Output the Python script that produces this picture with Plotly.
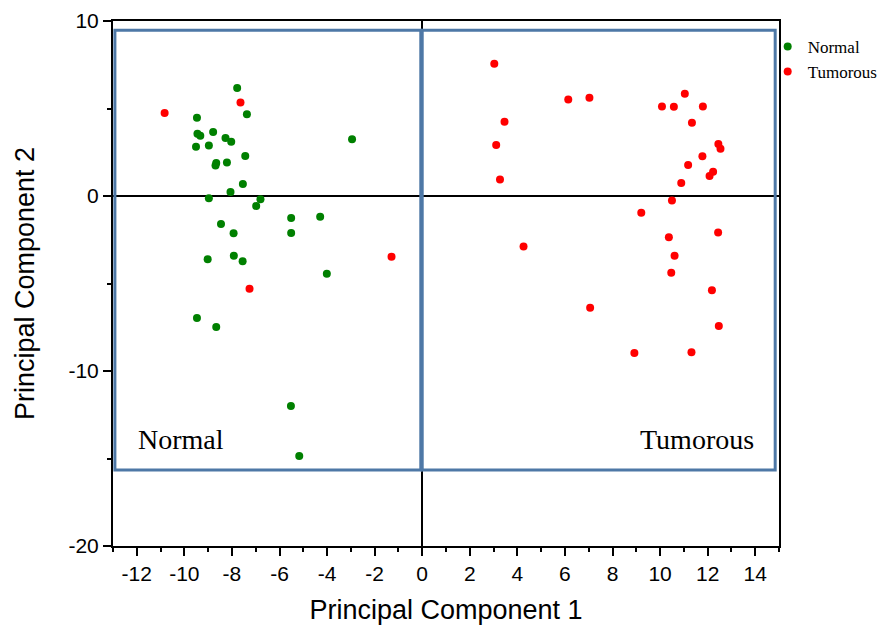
import plotly.graph_objects as go

normal_pc1 = [-7.78, -7.37, -9.47, -9.45, -9.33, -8.79, -8.27, -8.03, -9.51, -8.97,
              -7.44, -8.66, -8.69, -8.21, -7.54, -8.06, -8.97, -6.80, -6.98, -5.51,
              -4.29, -8.46, -7.93, -5.51, -2.95, -9.02, -7.92, -7.55, -4.01, -9.47,
              -8.66, -5.52, -5.17]
normal_pc2 = [6.17, 4.67, 4.47, 3.56, 3.45, 3.66, 3.31, 3.10, 2.82, 2.88,
              2.29, 1.89, 1.75, 1.92, 0.69, 0.23, -0.13, -0.19, -0.57, -1.26,
              -1.18, -1.60, -2.13, -2.11, 3.24, -3.62, -3.41, -3.73, -4.44, -6.97,
              -7.49, -12.0, -14.86]

tumor_pc1 = [-10.83, -7.64, -1.29, -7.26, 3.03, 6.14, 7.03, 3.46, 3.11, 3.27,
             10.08, 10.58, 11.04, 11.80, 11.34, 12.45, 12.54, 11.78, 11.18, 12.23,
             12.08, 10.89, 10.50, 9.21, 4.26, 10.37, 12.44, 10.61, 10.47, 12.18,
             7.06, 12.47, 8.92, 11.32]
tumor_pc2 = [4.74, 5.35, -3.47, -5.30, 7.56, 5.52, 5.62, 4.25, 2.91, 0.95,
             5.12, 5.10, 5.85, 5.12, 4.19, 2.97, 2.70, 2.27, 1.77, 1.39,
             1.14, 0.74, -0.25, -0.95, -2.88, -2.36, -2.09, -3.41, -4.38, -5.39,
             -6.38, -7.43, -8.97, -8.93]

x_ticks = list(range(-12, 15, 2))
y_ticks = [-20, -10, 0, 10]

fig = go.Figure()
fig.add_trace(go.Scatter(x=normal_pc1, y=normal_pc2, mode="markers", name="Normal",
                         marker=dict(color="#008000", size=8)))
fig.add_trace(go.Scatter(x=tumor_pc1, y=tumor_pc2, mode="markers", name="Tumorous",
                         marker=dict(color="#FF0000", size=8)))

box_color = "#4E78A6"
fig.add_shape(type="rect", x0=-12.92, x1=-0.06, y0=-15.66, y1=9.47,
              line=dict(color=box_color, width=3), layer="above")
fig.add_shape(type="rect", x0=0.0, x1=14.84, y0=-15.66, y1=9.47,
              line=dict(color=box_color, width=3), layer="above")

serif = "Liberation Serif, Times New Roman, serif"
sans = "Liberation Sans, Arial, sans-serif"
fig.add_annotation(x=-12.02, y=-13.9, text="Normal", showarrow=False, xanchor="left",
                   font=dict(family=serif, size=28, color="black"))
fig.add_annotation(x=14.04, y=-13.9, text="Tumorous", showarrow=False, xanchor="right",
                   font=dict(family=serif, size=28, color="black"))

axis_common = dict(showline=True, linecolor="black", linewidth=2, mirror=True,
                   showgrid=False, zeroline=True, zerolinecolor="black", zerolinewidth=1.5,
                   ticks="outside", ticklen=8, tickwidth=1.5, tickcolor="black",
                   automargin=False,
                   tickfont=dict(family=sans, size=21, color="black"),
                   minor=dict(ticks="outside", ticklen=4, tickwidth=1.5, tickcolor="black"))

fig.update_xaxes(range=[-13, 15], tickvals=x_ticks, ticktext=[str(v) for v in x_ticks],
                 minor_dtick=1, minor_tick0=1,
                 title=dict(text="Principal Component 1", standoff=16,
                            font=dict(family=sans, size=27, color="black")),
                 **axis_common)
fig.update_yaxes(range=[-20, 10], tickvals=y_ticks, ticktext=[str(v) for v in y_ticks],
                 minor_dtick=5, minor_tick0=5,
                 title=dict(text="Principal Component 2", standoff=26,
                            font=dict(family=sans, size=27, color="black")),
                 **axis_common)

fig.update_layout(
    width=878, height=629,
    margin=dict(l=113, r=99, t=21, b=83, autoexpand=False),
    plot_bgcolor="white", paper_bgcolor="white",
    showlegend=True,
    legend=dict(x=0.983, xanchor="left", y=0.985, yanchor="top",
                font=dict(family=serif, size=17, color="black"),
                itemwidth=30, tracegroupgap=0, bgcolor="rgba(0,0,0,0)",
                itemsizing="trace"),
)

fig.write_html("out.html", config={"displayModeBar": False},
               post_script="document.body.style.margin='0px';")
